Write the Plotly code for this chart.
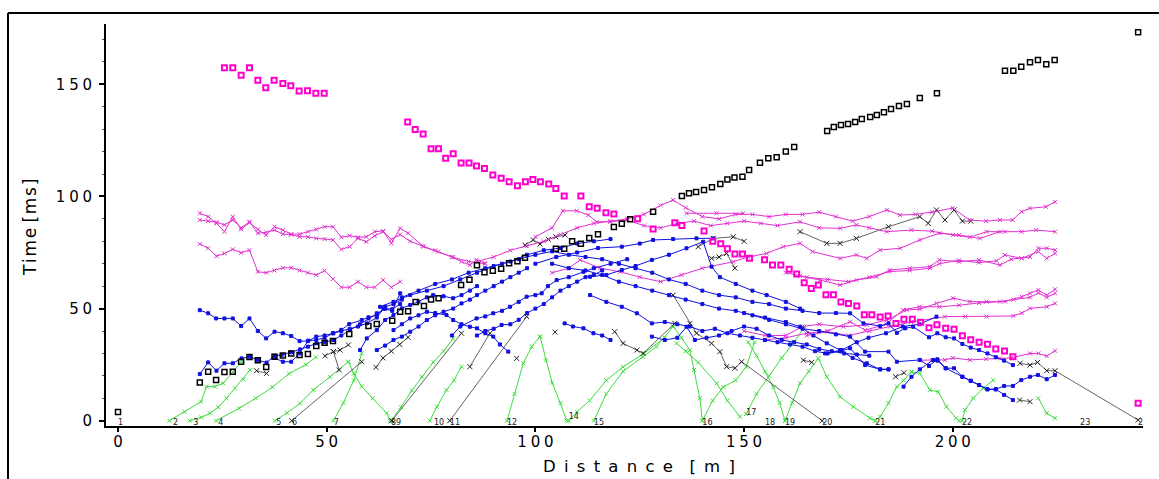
import plotly.graph_objects as go

# ---------------- data (distance in m, time in ms) ----------------
shot_labels = ["1", "2", "3", "4", "5", "6", "7", "89", "10", "11", "12", "14", "15",
               "16", "17", "18", "19", "20", "21", "22", "23", "24"]
shot_x = [0, 13.2, 18, 24, 37.9, 41.7, 51.7, 65.4, 75.7, 79.5, 93.2, 108, 114,
          140, 150.5, 155, 159.8, 168.7, 181.4, 202.2, 230.5, 244.4]
shot_y = [-0.8, -0.8, -0.8, -0.8, -0.8, -0.8, -0.8, -0.8, -0.8, -0.8, -0.8, 1.5, -0.8,
          -0.8, 3.5, -0.8, -0.8, -0.8, -0.8, -0.8, -0.8, -0.8]

# direct-wave picks (green)
green_x = [
    [12.3, 16, 19.9, 21.2, 23.2, 25.2, 27.5, 29.6],
    [17.2, 20, 22, 24, 26, 28, 30, 31.6],
    [23.5, 29, 33, 37, 41, 45, 47.4],
    [37.6, 40.5, 43.6, 46.8, 50.8, 55.2],
    [65.2, 64.4, 61, 58.4, 56.5, 55.2],
    [51.6, 54, 56.5, 58.4],
    [65.4, 67.8, 70.4, 72.8, 75.5, 78, 80.3],
    [74.7, 76.4, 78.7, 80.5, 82.3],
    [93.2, 95, 97.1, 99.1, 101.1],
    [107.5, 106, 104, 102.5, 101.1],
    [108, 110, 113, 117, 121, 126, 131],
    [114, 117, 121, 125.8, 129, 133],
    [140, 139.4, 138, 137, 135, 133],
    [149, 146, 143.4, 139, 136, 133.8],
    [140, 142.5, 145, 148, 150.5, 152.5],
    [159.8, 158.5, 157, 155, 153, 151],
    [150.5, 153, 156, 159, 162, 164.5],
    [159.8, 161.5, 163.4, 165.5, 167.8],
    [181.4, 180.2, 176.2, 173, 169.8, 167.8],
    [181.4, 182.6, 184.6, 186.6, 188.2, 190.1],
    [201.5, 200.8, 198.5, 196.5, 194.5, 192.1, 190.1],
    [202.2, 202.9, 204.9, 207.3, 209.7],
    [220.5, 222.5, 224.5],
]
green_y = [
    [0, 4, 8.5, 15.2, 15.2, 16.7, 21.8, 26.3],
    [0, 1.5, 3.3, 6, 10, 14.5, 18.5, 22.6],
    [0, 5.5, 10, 15, 21, 25, 28.3],
    [0, 3.5, 7.7, 13.7, 19.6, 26.3],
    [0, 3.3, 10, 15.2, 21, 26.3],
    [0, 8, 18, 30],
    [0, 6, 13.5, 19.6, 26, 31, 36.7],
    [0, 6.2, 13.7, 18, 24.1],
    [0, 12, 25.6, 33, 37.5],
    [0, 7.8, 17, 27, 37.5],
    [0, 4, 9, 18, 24, 30, 37],
    [0, 12, 22, 28.5, 33, 42],
    [0, 10, 22.6, 31.5, 37, 42],
    [1.8, 9, 16.7, 26, 31, 34.5],
    [0, 9, 15, 18, 24, 35],
    [0, 8, 15, 22, 29, 35],
    [3, 12, 20, 28, 35, 42],
    [0, 8, 16.7, 22, 27.8],
    [0, 1.1, 6.2, 10.7, 19.6, 27.8],
    [0, 1.8, 7.8, 15.2, 18, 21.8],
    [0, 1.1, 6.2, 12.9, 13.7, 21.1, 21.8],
    [0, 4.8, 10, 14.5, 18.1],
    [10, 3.3, 1.1],
]

# refracted first arrivals (blue)
blue_x = [
    [19.6, 21.6, 23.6, 25.5, 27.5, 29.6, 31.6, 33.5, 35.6, 37.5, 39.2, 41.5, 43.6, 45.5, 47.6, 49.5,
     51.6, 53.5, 55.6, 58, 60, 62, 64, 65.7, 67.6],
    [19.6, 21.6, 23.5, 25.5, 27.5, 29.5, 31.5, 33.5, 35.5, 37.5, 39.5, 41.5, 43.5, 45.5, 47.5, 49.5,
     51.5, 53.5, 55.4, 58.4, 60, 62, 63.6, 65.7, 67.6],
    [37.5, 39.5, 41.5, 43.5, 45.6, 47.5, 49.5, 51.6, 53.5, 55.5, 57.5, 59.6, 62, 64, 66, 68],
    [58, 59.6, 62, 64, 66, 68, 70, 72, 74, 75.5, 78, 80.3, 82.3, 84.3, 86],
    [62, 64, 66, 68, 70, 72, 74, 76, 78, 80.3, 82.3, 84.3, 86, 88, 90, 92, 94, 96, 98],
    [66, 68, 70, 72, 74, 76, 78.7, 80.3, 82.3, 84.3, 86, 88, 89.9, 91.5, 93.5],
    [62.8, 66, 70, 74, 78, 82, 86, 90, 94, 98, 102, 106, 110, 114, 118],
    [80, 82, 85.9, 88, 89.9, 92, 93.9, 96, 97.9, 100, 101.5, 103, 105.1, 108, 111.5, 114, 118, 122],
    [86, 88, 90, 91.9, 94, 96, 98, 100, 102, 104, 106, 108, 110, 112, 114, 116],
    [68, 72, 76, 80, 84, 88, 92, 96, 100, 104, 108, 112, 116, 120, 124, 128, 132, 136, 140, 144,
     148, 152, 156, 160, 164, 168, 172, 175.4, 178.6, 182.6, 184.6, 186.6, 188.6, 190.5, 194.3,
     196.3, 198.3, 200.3, 202.3, 204.3, 206.3, 208.3, 210.3, 212.3, 214.4],
    [104, 108, 112, 116, 120, 124, 128, 132, 136, 140, 144, 148, 152, 156, 160, 164, 168, 172,
     175.4, 179, 184.6, 186.6, 192.1, 194.3, 196.3, 198.3, 202.3, 204.3, 206.3, 208.3, 210.3,
     212.3, 214.4],
    [107, 109, 111.5, 113.9, 116, 118],
    [113.1, 117, 120.7, 124.3, 127.9, 131, 134, 137, 140, 143, 146, 149, 152, 155, 158, 161, 164,
     167, 170, 173, 175.4, 179, 182.6, 184.6],
    [127.9, 131, 134, 136.2, 138.2, 141, 144, 147, 150, 153, 156, 159, 162, 165, 168, 171, 174,
     177, 180],
    [169.4, 173.4, 177, 179.8, 184, 188, 192, 196.1],
    [188.2, 190.1, 192.1, 195.3, 196.3, 198.3, 200.3, 202.3, 204.3, 206.3, 208.3, 210.3, 212.3,
     214.4, 216.4, 218.5, 220.4, 222.5, 224.5],
    [150, 155, 160, 163.4, 166.6, 169.8, 173, 176, 179.4, 182.6, 184.6],
    [100, 105, 110, 115, 120.7, 125, 128.2, 133, 138.6, 142.6],
    [113.1, 117, 120.7, 124, 127.9, 132, 136.2, 140.2, 142.2, 144.2, 148, 152, 155.4, 160, 163.4],
]
blue_y = [
    [20.8, 26, 22.3, 25.6, 25.6, 27.8, 28.5, 27, 25.9, 29, 29.3, 30.5, 31.8, 33, 34.5, 35, 36, 38,
     40.4, 43, 45.6, 47.9, 49.9, 49, 56.8],
    [49.3, 47.9, 45.6, 45.6, 45.6, 42.2, 45.6, 40, 36.7, 39.7, 39, 37.8, 35.5, 35.5, 37.5, 38, 39,
     40.5, 43.1, 44.9, 46.1, 47.1, 50.1, 49.7, 52],
    [28, 26.3, 26.3, 30, 35.7, 36, 37, 39, 40, 41, 42, 43.4, 46, 50.8, 52, 54],
    [31.5, 36.7, 40.4, 44.9, 47.1, 50.1, 51.6, 53.1, 55, 56, 55.5, 54.6, 56, 58, 60],
    [31.5, 33.5, 36, 37.5, 39.7, 42, 44.9, 47, 48.6, 50, 52.3, 54, 56, 58, 60, 62, 64, 66, 68],
    [40.4, 43, 45.6, 47, 48.6, 48, 47.1, 44.9, 43, 41.9, 41.2, 39, 37.5, 34, 30.8],
    [50.8, 53, 56, 58, 60, 63, 66, 69, 71, 74, 76, 77, 79, 80, 81],
    [38, 42, 45.6, 46.5, 47.9, 49, 50.8, 53, 55.3, 56, 56.8, 60, 62.7, 64, 66.4, 68, 70, 72],
    [38, 40, 41, 42.7, 43, 45, 48, 50, 52, 55, 58, 60, 62, 64, 65, 67],
    [55, 58, 61, 63, 66, 68, 70, 72, 74, 75.5, 74, 73, 72, 70, 68, 66, 63, 61, 58, 56, 55, 53, 52,
     50, 49, 48, 48, 47.9, 43.4, 42.2, 43.4, 39.2, 41.2, 41.9, 37.2, 39, 37.2, 36.7, 34.2, 32.6,
     31.5, 30, 28.3, 26.8, 24.8],
    [70, 68, 67, 65, 62, 60, 58, 56, 54, 52, 50, 49, 47, 45, 43, 41, 40, 38.5, 37.5, 30.8, 30.8,
     26.3, 27.1, 24.4, 27.4, 23.4, 19.6, 17.8, 15.9, 14, 14, 11.5, 9.2],
    [43.4, 42, 41.2, 39, 38, 36],
    [56, 53, 50.8, 47.9, 43.4, 44, 43, 42, 40, 41, 39, 38, 37, 36, 35, 34, 33, 31, 30, 31, 32.3,
     24.8, 22.9, 22.9],
    [37.5, 36, 37, 41.9, 36, 37, 38, 40, 42, 41, 38, 36, 35, 34, 32, 31, 30, 29.5, 29],
    [30, 31.5, 35, 37, 39, 42, 43, 46.4],
    [15.2, 19.6, 22.9, 27.1, 26.8, 23.4, 23.4, 19.6, 17.8, 15.9, 14, 14, 15.5, 15.5, 18.1, 19.6,
     20.4, 18.5, 20.4],
    [48, 46, 44, 41.9, 38, 34.5, 31.5, 28, 25.6, 22.9, 22.9],
    [70, 73, 75, 77, 77.6, 79, 80.6, 81, 81.3, 81.3],
    [64.2, 65, 67.2, 69, 71.7, 74, 76.9, 79.8, 68.7, 64, 61, 58, 56, 53, 50],
]

# later arrivals (magenta)
mag_x = [
    [19.6, 21.6, 23.6, 25.5, 27.5, 29.5, 31.5, 33.5, 35.5, 37.5, 39.5, 41.5, 43.5, 45.5, 47.5,
     49.5, 51.5, 53.5, 55.5, 57.5, 59.5, 61.5, 63.5, 65.5, 67.6, 69.5, 73.2, 76.7, 80.3, 82.3,
     84.3, 85.9, 87.9],
    [19.6, 21.6, 23.6, 25.5, 27.5, 29.5, 31.5, 33.5, 35.5, 37.5, 39.5, 41.5, 43.5, 45.5, 47.5,
     49.5, 51.5, 53.5, 55.5, 57.5, 59.5, 61.5, 63.5, 65.5, 67.6, 70, 73, 76, 80, 84, 88],
    [19.6, 21.6, 23.6, 25.5, 27.5, 29.5, 31.5, 33.5, 35.5, 37.5, 39.5, 41.5, 43.5, 45.5, 47.5,
     49.5, 51.5, 53.5, 55.5, 57.5, 59.5, 61.5, 63.5, 65.5, 67.6],
    [86, 90, 94, 98, 102, 106, 110, 114, 118, 122, 126, 130, 133, 136, 140, 144, 148, 152, 156,
     160, 164, 168, 172, 176, 180, 184.2, 187.4, 191, 195, 200, 204, 208, 211.3, 214.3, 216.5,
     218.5, 222.3, 224.5],
    [100, 104, 106.6, 109.9, 112.7, 114.7, 117.9, 121.9, 126, 130, 134, 138, 142, 146, 150, 154,
     158, 163.4, 168, 173, 176.9, 180, 184.2, 190.1, 195, 200.1, 204.1, 208.1, 212.5, 216.5, 220,
     224.5],
    [104, 108, 110.7, 115.5, 120.3, 125, 130, 135, 140, 147.4, 151, 155.4, 159.4, 163.4, 166.4,
     173, 176.9, 179.4, 182.6, 187.4, 192.1, 196.8, 201.5, 206.5, 211.3],
    [163.4, 168.2, 173, 176.9, 181.7, 184.9, 189.7, 194.5, 196.8, 201.5, 206.3, 211.3, 214, 216.5,
     218.5, 220.5, 222.5, 224.5],
    [160, 165, 170, 175, 180, 184.9, 189.7, 194.5, 196.8, 201.5, 206.3, 210.5, 212.5, 216.5,
     220.5, 222.5, 224.5],
    [150, 155, 160, 164, 168, 173.8, 179.4, 184.2, 189, 192.1, 196.1, 200.1, 204.1, 208.1, 212.5,
     216.5, 218.5, 220.5, 222.5, 224.5],
    [155, 160, 165, 170, 175.4, 179, 184, 188.1, 192, 196.8, 201.5, 206.3, 211.3, 214.5, 218.5,
     220.5, 222.5, 224.5],
    [165, 170, 175, 180, 185, 190, 198.1, 203, 208.1, 214.5, 216.5, 218.5, 222.5, 224.5],
    [192, 195, 198.1, 200, 204.1, 208, 211.3, 214, 218.5, 220.5, 222.5, 224.5],
    [136.2, 143.4, 149.8],
]
mag_y = [
    [92.5, 91, 88, 84.3, 91, 85.3, 88.3, 85.3, 82.8, 86.5, 85, 83.2, 83.2, 84.3, 85.3, 86.5, 86.5,
     81.8, 82.5, 81.8, 82, 84.3, 84.6, 79.1, 85.8, 83.6, 77.6, 75.4, 72.9, 70.9, 69.4, 71.7, 70.2],
    [89.5, 89, 88.5, 87.3, 89.5, 86, 88.7, 83.6, 84, 85, 83.2, 83, 82, 82, 81.3, 81, 80.6, 76.4,
     77.6, 81.3, 79.8, 82.4, 84.3, 80.9, 83, 80, 78, 76, 73, 71, 70],
    [78.8, 76.9, 73.4, 74.6, 76.4, 74.9, 76.1, 66.4, 66, 67, 68.2, 68.2, 67, 66, 65, 66.9, 63.2,
     59.5, 59.5, 62, 59.5, 59.5, 62.7, 59.5, 62],
    [71, 73, 76, 78, 80, 83, 86, 88, 89, 90, 92, 96, 98.4, 95, 91, 90, 92, 92, 91, 92, 92, 93, 91,
     89, 91, 94, 91.7, 92, 93, 94.8, 89.5, 89, 89.5, 89.5, 93.2, 94.7, 95.4, 97.6],
    [82, 86, 93.6, 93.6, 91.7, 88.7, 88.7, 89.5, 87, 86, 88, 89, 87, 88, 89, 88, 87, 88.7, 86,
     85.8, 87.3, 86, 84.3, 85, 84.5, 82.8, 81.8, 84.3, 84.3, 84.3, 85, 84.3],
    [66, 68, 71.7, 68, 66.4, 64, 62, 65, 68, 70.9, 73, 74.6, 77.6, 79.1, 75.4, 72.4, 73.9, 72.4,
     76.1, 76.9, 80.6, 83.6, 82.8, 81.3, 84.3],
    [64.5, 62.7, 60.5, 62.7, 64.2, 67.2, 68, 68.7, 71.7, 70.9, 71.7, 69.4, 72, 72.4, 73, 76.9,
     76.9, 76.1],
    [66, 64, 63, 62, 64, 66.5, 67, 68, 70, 71.5, 70.5, 71.3, 73.9, 72.4, 75.4, 72.4, 74.6],
    [40, 38, 38, 42, 43, 41.9, 42.7, 44.9, 49.4, 49.7, 52.3, 54.6, 53.1, 53.1, 53.1, 55.3, 56.8,
     58.3, 56, 58.6],
    [36, 37, 39, 40, 44.1, 40.4, 43, 49.4, 50.8, 50.8, 51.5, 52.5, 53.1, 54, 55, 57, 55, 56.8],
    [38, 39.7, 38, 40, 42, 44, 46.4, 46.4, 46.4, 46.7, 48, 50.1, 50.8, 52.3],
    [27, 27, 27.1, 28, 27.1, 27.5, 27.8, 28, 30, 30, 28.8, 31.2],
    [92.5, 92.5, 92.5],
]

# other picks (black)
black_x = [
    [41.6, 58.4],
    [61.8, 63.5, 65.5, 67.5, 69.5],
    [65.6, 82.3],
    [79.5, 97.9],
    [84.3, 89.1],
    [33.2, 35.6],
    [49.6, 51.6, 53.2, 55.2],
    [51.6, 53],
    [119, 121, 124.3, 125.8, 133.4],
    [133, 137, 138.6, 142.2, 144.2, 145.8, 147.8, 149.4, 168.7],
    [163.4, 169.8, 173, 176.9, 184.6, 192.1, 194.1, 196.1, 198.1, 200.3, 202.3, 204.3],
    [216.1, 218.5, 220.3, 222.5, 224.5, 244.4],
    [216, 218.5],
    [186.3, 188.3],
    [97.5, 99.5, 101.1, 103.1, 104.9, 107.1],
    [139, 142.6, 147.4, 150],
    [142.2, 144, 145.8, 147.8],
    [164.2, 166.2],
    [104.7],
    [95.5],
]
black_y = [
    [0, 26.3],
    [23.8, 28, 31, 34, 37.2],
    [0, 39],
    [0, 46.4],
    [24.1, 39],
    [22.3, 21.1],
    [28.9, 30.8, 31.5, 33.8],
    [30.8, 22.6],
    [39.7, 34.5, 31.5, 30, 43.4],
    [56, 43.4, 39, 34.5, 30.8, 24.1, 23.4, 26.3, 0],
    [84.3, 79.1, 79.1, 81.3, 86.5, 91, 88, 94, 89.5, 94, 89, 89],
    [25.6, 24.8, 26, 22.3, 22.3, 0.3],
    [9.2, 8.5],
    [19.6, 21.4],
    [78.3, 80.6, 78.8, 80.9, 82, 82.8],
    [77.6, 81.3, 82, 80],
    [72.4, 73, 74.6, 68],
    [27, 26],
    [39.5],
    [27.8],
]

# reciprocal-time squares
sq_black_x = [0, 19.6, 21.6, 23.5, 25.5, 27.5, 29.5, 31.5, 33.5, 35.5, 37.5, 39.5, 41.5, 43.5,
              45.5, 47.5, 49.5, 51.5, 55.4, 60, 62, 65.7, 67.6, 69.5, 71.3, 73.3, 75, 76.8, 82.2,
              84.2, 86, 87.8, 89.8, 91.8, 93.7, 95.7, 97.5, 104.9, 106.9, 108.8, 110.9, 112.9,
              115, 118.8, 120.7, 122.7, 128.2, 135.1, 136.8, 138.5, 140.4, 142.3, 144.3, 146,
              147.7, 149.6, 151.2, 153.8, 155.8, 157.8, 160, 162, 169.9, 171.5, 173.2, 174.9,
              176.6, 178.2, 180.2, 181.8, 183.5, 185.2, 187.1, 189, 192.1, 196.2, 212.5, 214.5,
              216.4, 218.5, 220.4, 222.4, 224.4, 244.4]
sq_black_y = [3.9, 17, 21.8, 18.1, 21.7, 21.8, 26.3, 28.4, 27, 24, 28.5, 29.1, 30, 29.3, 29.7,
              33.3, 34.8, 35.5, 38.7, 42.2, 43.1, 44.6, 48.6, 48.8, 52.9, 51.1, 54.1, 54.6, 60.5,
              62.9, 69.3, 66.2, 66.9, 67.8, 70.2, 71.1, 72.7, 76.7, 76.7, 80, 78.9, 81.5, 83.1,
              86.4, 87.8, 89.8, 93.2, 100.2, 101.4, 102, 102.9, 104.1, 105.5, 107.6, 108.5,
              108.8, 111.8, 115, 117, 117.5, 120, 122, 129.2, 131, 131.9, 132.3, 133.2, 134.5,
              135.4, 136.3, 137.6, 139, 140.3, 141.2, 143.9, 146, 156, 156, 157.8, 159.8, 160.8,
              158.9, 160.8, 173.2]

sq_mag1_x = [25.5, 27.5, 29.5, 31.5, 33.5, 35.4, 37.4, 39.5, 41.4, 43.4, 45.4, 47.4, 49.4]
sq_mag1_y = [157.4, 157.4, 154.1, 157.4, 151.8, 148.5, 151.8, 150.4, 149.4, 147, 147.1, 146, 146]

sq_mag2_x = [69.4, 71.2, 73.1, 75, 76.8, 78.5, 80.3, 82.2, 84.1, 85.9, 87.8, 89.8, 91.8, 93.7,
             95.7, 97.6, 99.4, 101.2, 103.2, 104.9, 106.9, 110.9, 112.9, 114.8, 116.9, 118.8,
             124.5, 128.2, 133.4, 135.1, 140.4, 142.5, 144.4, 146, 147.8, 149.6, 151.3, 154.9,
             156.8, 158.8, 160.8, 162.6, 164.4, 166.1, 167.8, 169.6, 171.4, 173.2, 175, 177,
             178.8, 180.6, 182.6, 184.5, 186.4, 188.3, 190.3, 192.3, 194.3, 196.2, 198.3, 200.3,
             202.3, 204.3, 206.3, 208.3, 210.3, 212.4, 214.4, 244.4]
sq_mag2_y = [133.2, 129.9, 127.8, 121.3, 121.3, 117, 119, 114.9, 114.9, 113.6, 112.5, 109.6,
             108.1, 106.6, 104.8, 106.6, 107.6, 106.6, 105.5, 103.6, 100.2, 100.2, 95.4, 94.7,
             92.7, 92.2, 90.1, 85.5, 88.3, 87, 84.6, 80, 78.9, 76.7, 74.3, 74.3, 72.4, 71.8, 69.4,
             69.4, 67.5, 65.4, 61.5, 58.9, 60.5, 56.2, 56.2, 52.9, 52.3, 51.1, 47.3, 47.3, 46.2,
             46.7, 43.3, 45.2, 45.2, 43.9, 41.5, 42.8, 41.2, 40.8, 37.9, 36.1, 35, 34.1, 32, 31.1,
             28.5, 7.8]

x_ticks = [0, 50, 100, 150, 200]
y_ticks = [0, 50, 100, 150]
x_title = "Distance [m]"
y_title = "Time [ms]"

# ---------------- styles ----------------
GREEN = "#3ddc3d"
BLUE = "#1010e0"
MAGENTA = "#e030d0"
MAG_SQ = "#ff00cc"
BLACK = "#202020"

TICK_SP = "\u2005"   # four-per-em space: wide letter spacing of tick labels
TITLE_SP = "\u2002"  # en space: very wide spacing of the x title
HAIR = "\u200a"      # hair space for the y title


def spaced(s, sep, word_sep):
    return word_sep.join(sep.join(list(w)) for w in s.split(" "))


fig = go.Figure()


def add_lines(xs, ys, color, symbol, msize, lw=1.0, mode="lines+markers"):
    for x, y in zip(xs, ys):
        fig.add_trace(go.Scatter(
            x=x, y=y, mode=mode,
            line=dict(color=color, width=lw),
            marker=dict(symbol=symbol, size=msize, color=color,
                        line=dict(color=color, width=1)),
            hoverinfo="skip"))


add_lines(green_x, green_y, GREEN, "x-thin", 4)
add_lines(black_x, black_y, BLACK, "x-thin", 5, lw=0.7)
add_lines(mag_x, mag_y, MAGENTA, "x-thin", 4)
add_lines(blue_x, blue_y, BLUE, "square", 3)

fig.add_trace(go.Scatter(x=sq_mag1_x, y=sq_mag1_y, mode="markers",
                         marker=dict(symbol="square-open", size=5, color=MAG_SQ,
                                     line=dict(color=MAG_SQ, width=2)), hoverinfo="skip"))
fig.add_trace(go.Scatter(x=sq_mag2_x, y=sq_mag2_y, mode="markers",
                         marker=dict(symbol="square-open", size=5, color=MAG_SQ,
                                     line=dict(color=MAG_SQ, width=2)), hoverinfo="skip"))
fig.add_trace(go.Scatter(x=sq_black_x, y=sq_black_y, mode="markers",
                         marker=dict(symbol="square-open", size=5, color="black",
                                     line=dict(color="black", width=1.5)), hoverinfo="skip"))

fig.add_trace(go.Scatter(x=shot_x, y=shot_y, mode="text", text=shot_labels,
                         textposition="middle right",
                         textfont=dict(size=8, color="#222222", family="DejaVu Sans"),
                         hoverinfo="skip"))

tick_font = dict(family="DejaVu Sans", size=15, color="black")

fig.update_layout(
    width=1159, height=479,
    margin=dict(l=106, r=16, t=24, b=53),
    paper_bgcolor="white", plot_bgcolor="white",
    showlegend=False,
    font=dict(family="DejaVu Sans", color="black"),
    xaxis=dict(
        range=[-2.875, 245.57], showgrid=False, zeroline=False, automargin=False,
        showline=True, linecolor="black", linewidth=2,
        ticks="outside", ticklen=4, tickwidth=2, tickcolor="black",
        tickvals=x_ticks, ticktext=[spaced(str(v), TICK_SP, " ") for v in x_ticks],
        tickfont=tick_font, ticklabelstandoff=-3,
    ),
    yaxis=dict(
        range=[-2.36, 176.9], showgrid=False, zeroline=False, automargin=False,
        showline=True, linecolor="black", linewidth=2,
        ticks="outside", ticklen=5, tickwidth=2, tickcolor="black",
        tickvals=y_ticks, ticktext=[spaced(str(v), TICK_SP, " ") for v in y_ticks],
        tickfont=tick_font, ticklabelstandoff=4,
        minor=dict(ticks="outside", ticklen=2, tickwidth=1, tickcolor="#555555", dtick=10,
                   tick0=0, showgrid=False),
    ),
    annotations=[
        dict(text=spaced(x_title, TITLE_SP, "\u2003"), xref="paper", yref="paper",
             x=0.514, y=-0.10, xanchor="center", yanchor="middle", showarrow=False,
             font=dict(family="DejaVu Sans", size=16.5, color="black")),
        dict(text=spaced(y_title, HAIR, " "), xref="paper", yref="paper",
             x=-0.073, y=0.493, xanchor="center", yanchor="middle", showarrow=False,
             textangle=-90, font=dict(family="DejaVu Sans", size=17, color="black")),
    ],
    shapes=[
        dict(type="line", xref="paper", yref="paper", x0=-0.0945, x1=1.02, y0=1.0274, y1=1.0274,
             line=dict(color="black", width=2)),
        dict(type="line", xref="paper", yref="paper", x0=-0.0945, x1=-0.0945, y0=1.0274, y1=-0.14,
             line=dict(color="black", width=2)),
    ],
)

fig.write_html("out.html")
